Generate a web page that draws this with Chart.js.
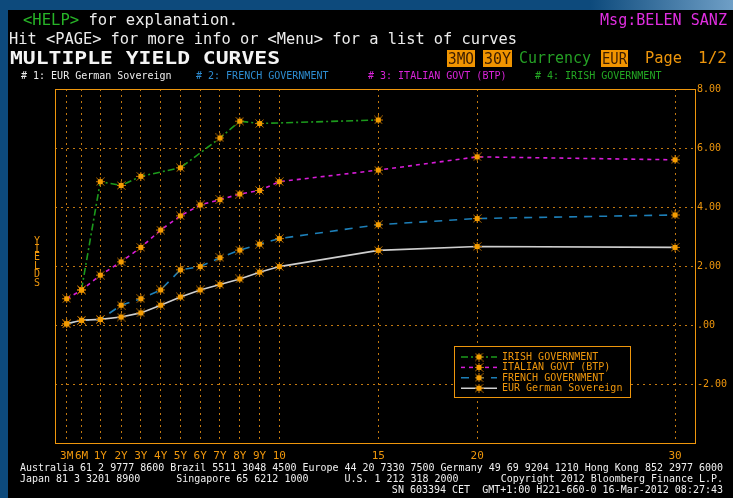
<!DOCTYPE html>
<html>
<head>
<meta charset="utf-8">
<script src="https://cdn.jsdelivr.net/npm/chart.js@4.4.1/dist/chart.umd.min.js"></script>
<style>
  html, body { margin: 0; padding: 0; background: #000; }
  canvas { display: block; }
</style>
</head>
<body>
<canvas id="yieldCurves" width="733" height="498"></canvas>
<script>
// Tenors on the x axis and where the screen puts them (short end is stretched)
const tenorLabels = ["3M", "6M", "1Y", "2Y", "3Y", "4Y", "5Y", "6Y", "7Y", "8Y", "9Y", "10", "15", "20", "30"];
const tenorPos = [-0.75, 0, 0.95, 2, 3, 4, 5, 6, 7, 8, 9, 10, 15, 20, 30];

// Yields in %, null where a curve has no point
const germanYields = [0.04, 0.16, 0.19, 0.27, 0.41, 0.67, 0.95, 1.19, 1.37, 1.56, 1.79, 1.98, 2.53, 2.66, 2.63];
const frenchYields = [0.04, 0.16, 0.19, 0.67, 0.89, 1.19, 1.87, 1.98, 2.28, 2.54, 2.74, 2.93, 3.40, 3.61, 3.73];
const italianYields = [0.89, 1.18, 1.69, 2.14, 2.63, 3.22, 3.70, 4.07, 4.25, 4.44, 4.56, 4.86, 5.25, 5.70, 5.60];
const irishYields = [null, 1.20, 4.86, 4.73, 5.04, null, 5.33, null, 6.34, 6.91, 6.83, null, 6.95, null, null];

const yTicks = [-4, -2, 0, 2, 4, 6, 8];

const ORANGE = "#ee960c";
const GRID = "#c27810";
const MONO = "DejaVu Sans Mono";

// small orange star-square used for every point
function makeMarker() {
  const c = document.createElement("canvas");
  c.width = 9;
  c.height = 9;
  const g = c.getContext("2d");
  g.strokeStyle = "#c47400";
  g.lineWidth = 1;
  g.beginPath();
  g.moveTo(0.5, 0.5); g.lineTo(8.5, 8.5);
  g.moveTo(8.5, 0.5); g.lineTo(0.5, 8.5);
  g.moveTo(4.5, 0); g.lineTo(4.5, 9);
  g.moveTo(0, 4.5); g.lineTo(9, 4.5);
  g.stroke();
  g.fillStyle = "#f49c00";
  g.fillRect(2, 2, 5, 5);
  return c;
}
const marker = makeMarker();

function toPoints(values) {
  return values.map(function (v, i) {
    return { x: tenorPos[i], y: v };
  });
}

// draw text segments squeezed/stretched to a given width
function fitText(ctx, parts, x, y, width, font) {
  ctx.font = font;
  const full = parts.map(p => p[0]).join("");
  const sx = width / ctx.measureText(full).width;
  ctx.save();
  ctx.translate(x, y);
  ctx.scale(sx, 1);
  let cx = 0;
  parts.forEach(function (p) {
    ctx.fillStyle = p[1];
    ctx.fillText(p[0], cx, 0);
    cx += ctx.measureText(p[0]).width;
  });
  ctx.restore();
}

function box(ctx, label, x, y, w, h) {
  ctx.fillStyle = "#f09400";
  ctx.fillRect(x, y, w, h);
  fitText(ctx, [[label, "#3a1c00"]], x + 1, y + h / 2 + 1, w - 2, "16px " + MONO);
}

const screenPlugin = {
  id: "screen",
  beforeDraw(chart) {
    const ctx = chart.ctx;
    ctx.save();
    // terminal window frame
    ctx.fillStyle = "#0d4a7c";
    ctx.fillRect(0, 0, 733, 498);
    const grad = ctx.createLinearGradient(590, 0, 733, 0);
    grad.addColorStop(0, "#0d4a7c");
    grad.addColorStop(1, "#6f9fc6");
    ctx.fillStyle = grad;
    ctx.fillRect(590, 0, 143, 10);
    ctx.fillStyle = "#000";
    ctx.fillRect(8, 10, 725, 488);

    ctx.textBaseline = "middle";
    ctx.textAlign = "left";
    fitText(ctx, [["<HELP>", "#27b427"], [" for explanation.", "#ececec"]], 23, 21, 215, "16px " + MONO);
    fitText(ctx, [["Msg:BELEN SANZ", "#e02ee0"]], 600, 21, 127, "16px " + MONO);
    fitText(ctx, [["Hit <PAGE> for more info or <Menu> for a list of curves", "#ececec"]], 9, 40, 508, "16px " + MONO);
    fitText(ctx, [["MULTIPLE YIELD CURVES", "#f4f4f4"]], 10, 59, 270, "bold 18px " + MONO);

    box(ctx, "3MO", 447, 50, 28, 17);
    box(ctx, "30Y", 483, 50, 29, 17);
    fitText(ctx, [["Currency", "#25a025"]], 519, 59, 72, "16px " + MONO);
    box(ctx, "EUR", 601, 50, 27, 17);
    fitText(ctx, [["Page", ORANGE]], 645, 59, 37, "16px " + MONO);
    fitText(ctx, [["1/2", ORANGE]], 698, 59, 29, "16px " + MONO);

    // curve list row
    ctx.font = "10px " + MONO;
    const rowX = [21, 196, 368, 535];
    chart.data.datasets.forEach(function (ds, i) {
      ctx.fillStyle = ds.headColor;
      ctx.fillText("# " + (i + 1) + ": " + ds.label, rowX[i], 76);
    });

    // vertical axis title
    ctx.fillStyle = ORANGE;
    ctx.textAlign = "center";
    "YIELDS".split("").forEach(function (ch, i) {
      ctx.fillText(ch, 37, 241 + i * 8.4);
    });

    // footer
    ctx.textAlign = "left";
    ctx.fillStyle = "#f0f0f0";
    fitText(ctx, [["Australia 61 2 9777 8600 Brazil 5511 3048 4500 Europe 44 20 7330 7500 Germany 49 69 9204 1210 Hong Kong 852 2977 6000", "#f0f0f0"]], 20, 468, 703, "10px " + MONO);
    fitText(ctx, [["Japan 81 3 3201 8900      Singapore 65 6212 1000      U.S. 1 212 318 2000       Copyright 2012 Bloomberg Finance L.P.", "#f0f0f0"]], 20, 479, 703, "10px " + MONO);
    ctx.textAlign = "right";
    ctx.fillText("SN 603394 CET  GMT+1:00 H221-660-0 16-Mar-2012 08:27:43", 723, 490);
    ctx.restore();
  },
  afterDraw(chart) {
    const ctx = chart.ctx;
    const a = chart.chartArea;
    ctx.save();
    ctx.strokeStyle = ORANGE;
    ctx.lineWidth = 1;
    ctx.strokeRect(a.left + 0.5, a.top + 0.5, a.right - a.left, a.bottom - a.top);

    // legend box inside the plot
    ctx.fillStyle = "#000";
    ctx.fillRect(454.5, 346.5, 176, 51);
    ctx.strokeRect(454.5, 346.5, 176, 51);
    ctx.font = "10px " + MONO;
    ctx.textBaseline = "middle";
    chart.data.datasets.slice().reverse().forEach(function (ds, i) {
      const y = 357 + i * 10.4;
      ctx.strokeStyle = ds.borderColor;
      ctx.lineWidth = 1.5;
      ctx.setLineDash(ds.borderDash || []);
      ctx.beginPath();
      ctx.moveTo(461, y);
      ctx.lineTo(497, y);
      ctx.stroke();
      ctx.setLineDash([]);
      ctx.drawImage(marker, 479 - 4.5, y - 4.5);
      ctx.fillStyle = ORANGE;
      ctx.fillText(ds.label, 502, y + 0.5);
    });
    ctx.restore();
  }
};

const ctx = document.getElementById("yieldCurves").getContext("2d");

new Chart(ctx, {
  type: "line",
  data: {
    datasets: [
      {
        label: "EUR German Sovereign",
        data: toPoints(germanYields),
        borderColor: "#cfcfcf",
        headColor: "#ececec",
        borderWidth: 1.6
      },
      {
        label: "FRENCH GOVERNMENT",
        data: toPoints(frenchYields),
        borderColor: "#1d7fb8",
        headColor: "#2d8cd0",
        borderWidth: 1.6,
        borderDash: [8, 7]
      },
      {
        label: "ITALIAN GOVT (BTP)",
        data: toPoints(italianYields),
        borderColor: "#d81cd8",
        headColor: "#d823d8",
        borderWidth: 1.6,
        borderDash: [4, 4]
      },
      {
        label: "IRISH GOVERNMENT",
        data: toPoints(irishYields),
        borderColor: "#1c9a1c",
        headColor: "#23a823",
        borderWidth: 1.6,
        borderDash: [7, 3, 2, 3]
      }
    ]
  },
  options: {
    responsive: false,
    animation: false,
    spanGaps: true,
    elements: {
      line: { tension: 0, fill: false },
      point: { pointStyle: marker, radius: 4 }
    },
    layout: { padding: { left: 55, top: 89, right: 0, bottom: 0 } },
    plugins: {
      legend: { display: false },
      tooltip: { enabled: false }
    },
    scales: {
      x: {
        type: "linear",
        min: -1.34,
        max: 31.01,
        afterBuildTicks: function (s) {
          s.ticks = tenorPos.map(v => ({ value: v }));
        },
        afterFit: function (s) {
          s.height = 55;
        },
        grid: { color: GRID, lineWidth: 1, drawTicks: false },
        border: { display: false, dash: [2, 4] },
        ticks: {
          color: ORANGE,
          font: { family: MONO, size: 11 },
          padding: 7,
          autoSkip: false,
          maxRotation: 0,
          callback: function (v, i) {
            return tenorLabels[i];
          }
        }
      },
      y: {
        position: "right",
        min: -4,
        max: 8,
        afterBuildTicks: function (s) {
          s.ticks = yTicks.map(v => ({ value: v }));
        },
        afterFit: function (s) {
          s.width = 38;
        },
        grid: { color: GRID, lineWidth: 1, drawTicks: false },
        border: { display: false, dash: [2, 4] },
        ticks: {
          color: ORANGE,
          font: { family: MONO, size: 10 },
          padding: 2,
          callback: function (v) {
            if (v === -4) return "";
            if (v === 0) return ".00";
            return v.toFixed(2);
          }
        }
      }
    }
  },
  plugins: [screenPlugin]
});
</script>
</body>
</html>
